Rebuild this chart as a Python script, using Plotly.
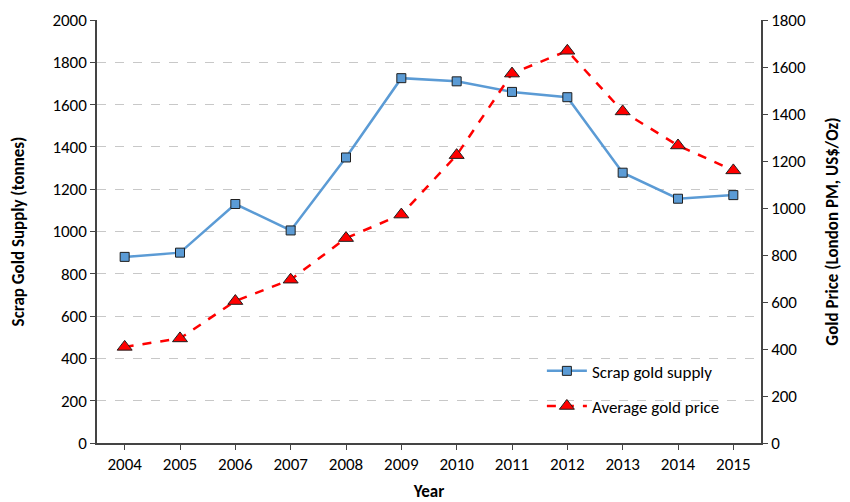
import plotly.graph_objects as go

years = [2004, 2005, 2006, 2007, 2008, 2009, 2010, 2011, 2012, 2013, 2014, 2015]
scrap_supply = [880, 900, 1130, 1005, 1350, 1725, 1710, 1660, 1635, 1278, 1155, 1172]
gold_price = [409, 445, 604, 695, 872, 972, 1225, 1572, 1669, 1411, 1266, 1160]

left_ticks = list(range(0, 2001, 200))
right_ticks = list(range(0, 1801, 200))

FONT = "Carlito, Calibri, Lato, sans-serif"

fig = go.Figure()
fig.add_trace(go.Scatter(
    x=years, y=scrap_supply, name="Scrap gold supply", mode="lines+markers",
    legendgroup="a",
    line=dict(color="#5B9BD5", width=2.5),
    marker=dict(symbol="square", size=9, color="#5B9BD5", line=dict(color="#1f1f1f", width=1)),
    yaxis="y"))
fig.add_trace(go.Scatter(
    x=years, y=gold_price, name="Average gold price", mode="lines+markers",
    legendgroup="b",
    line=dict(color="#FF0000", width=2.5, dash="dash"),
    marker=dict(symbol="triangle-up", size=13, color="#FF0000", line=dict(color="#1f1f1f", width=1)),
    yaxis="y2"))

fig.update_layout(
    width=842, height=494,
    margin=dict(l=89, r=89, t=12, b=59),
    paper_bgcolor="white", plot_bgcolor="white",
    font=dict(family=FONT, size=17, color="#000000"),
    showlegend=True,
    legend=dict(x=0.67, y=0.212, xanchor="left", yanchor="top",
                bgcolor="rgba(0,0,0,0)", font=dict(size=17), tracegroupgap=10,
                itemwidth=40),
    xaxis=dict(
        range=[2003.5, 2015.5], tickmode="array", tickvals=years,
        ticktext=[str(y) for y in years],
        showline=True, linecolor="#444", linewidth=1.5,
        ticks="outside", ticklen=5, tickcolor="#444",
        showgrid=False, zeroline=False, automargin=False,
        title=dict(text="<b>Year</b>", font=dict(size=17), standoff=13),
    ),
    yaxis=dict(
        range=[0, 2000], tickmode="array", tickvals=left_ticks,
        showline=True, linecolor="#444", linewidth=1.5,
        ticks="outside", ticklen=5, tickcolor="#444",
        showgrid=True, gridcolor="#c8c8c8", griddash="dash", gridwidth=1,
        zeroline=False, automargin=False,
        title=dict(text="<b>Scrap Gold Supply (tonnes)</b>", font=dict(size=17), standoff=26),
    ),
    yaxis2=dict(
        range=[0, 1800], tickmode="array", tickvals=right_ticks,
        overlaying="y", side="right",
        showline=True, linecolor="#444", linewidth=1.5,
        ticks="outside", ticklen=5, tickcolor="#444",
        showgrid=False, zeroline=False, automargin=False,
        title=dict(text="<b>Gold Price (London PM, US$/Oz)</b>", font=dict(size=17), standoff=21),
    ),
)

fig.write_html("out.html")
